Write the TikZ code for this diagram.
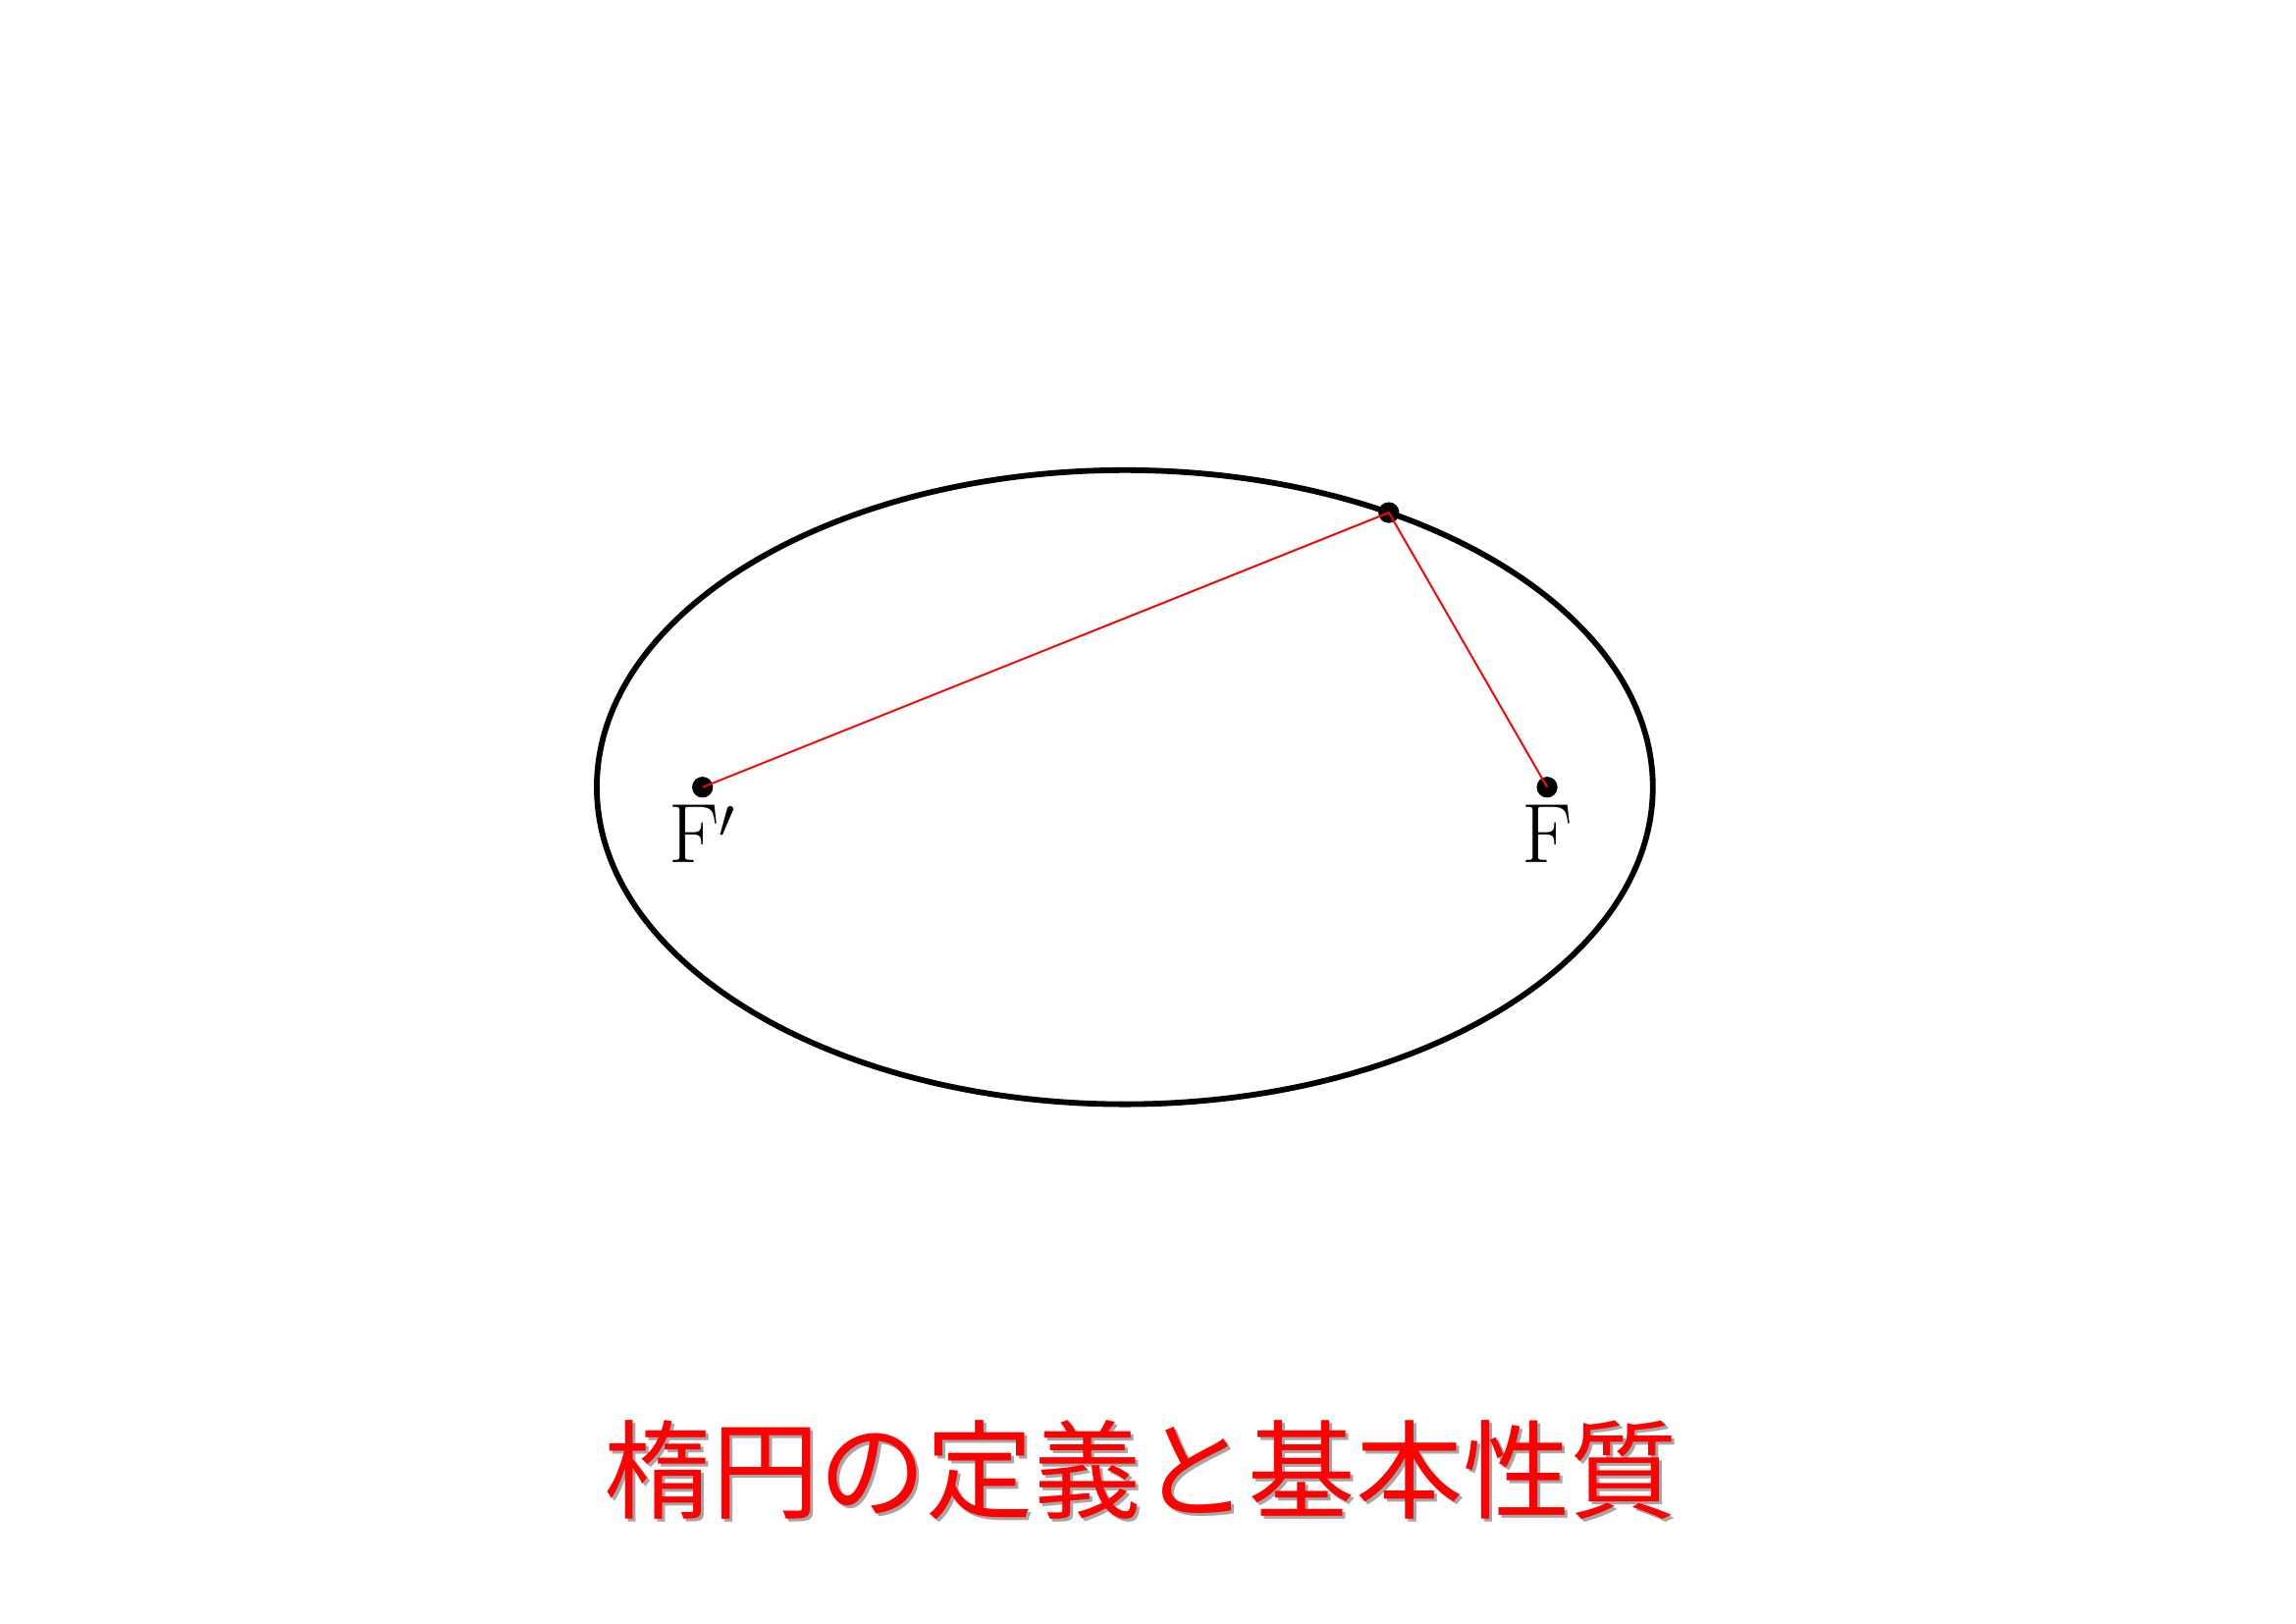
\documentclass[tikz,border=0pt]{standalone}
\usepackage{fontspec}
\newfontfamily\jpfont{Noto Sans CJK JP}
\usetikzlibrary{positioning, math}

\begin{document}
\begin{tikzpicture}[
    focuslabel/.style={font=\fontsize{31}{37}\selectfont, inner sep=0pt,
        text height=0.75cm, text depth=0pt},
    titletext/.style={font=\jpfont\fontsize{39.5}{47}\selectfont, anchor=base, inner sep=0pt}
    ]
    \useasboundingbox (0, 0) rectangle (29.7, 21);
    \tikzmath{\a = 6.83; \b = 4.1;
        \c = sqrt(\a*\a - \b*\b);
        \px = 14.55 + \a*cos(60);
        \py = 10.82 + \b*sin(60);
    }
    \draw[line width=2.1pt] (14.55, 10.82) ellipse [x radius=\a, y radius=\b];
    \coordinate (Fp) at (14.55 - \c, 10.82);
    \coordinate (F) at (14.55 + \c, 10.82);
    \coordinate (P) at (\px, \py);
    \fill (Fp) circle (0.135);
    \fill (F) circle (0.135);
    \fill (P) circle (0.135);
    \draw[red, line width=0.7pt] (Fp) -- (P) -- (F);
    \node[focuslabel, below=0.22cm of Fp] (lFp) {$\mathrm{F}'$};
    \node[focuslabel, below=0.22cm of F] (lF) {$\mathrm{F}$};
    % title with its shadow
    \node[titletext, black!35] (titleshadow) at (14.80, 1.43) {楕円の定義と基本性質};
    \node[titletext, red] (title) at (14.76, 1.47) {楕円の定義と基本性質};
\end{tikzpicture}
\end{document}
